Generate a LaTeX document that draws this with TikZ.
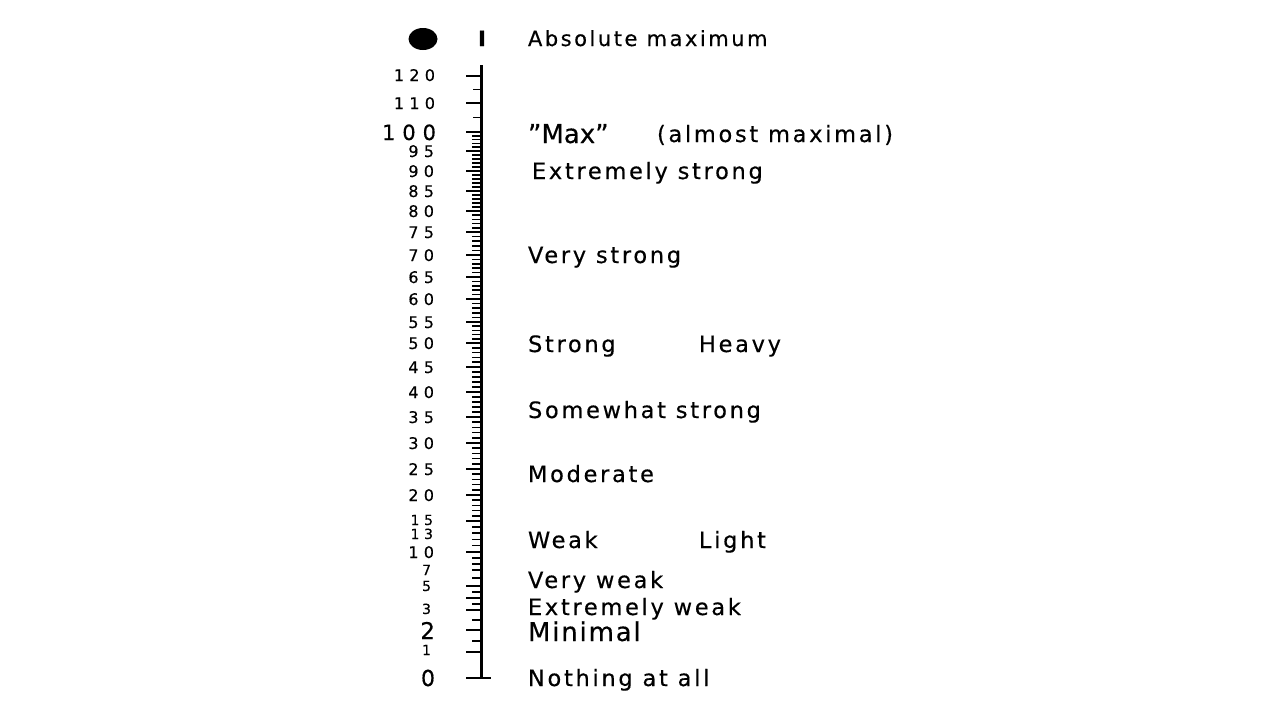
\documentclass[tikz,border=0pt]{standalone}
\usepackage{fontspec}
\setmainfont{DejaVu Sans}[LetterSpace=12, FakeBold=0.4]
\newfontfamily\numfont{DejaVu Sans}[LetterSpace=33, FakeBold=0.4]
\newfontfamily\maxfont{DejaVu Sans}[LetterSpace=0, FakeBold=0.4]
\newfontfamily\minfont{DejaVu Sans}[LetterSpace=7, FakeBold=0.4]
\usetikzlibrary{shapes.geometric}
\begin{document}
\begin{tikzpicture}[x=1pt,y=-1pt,
  every node/.style={inner sep=0pt, outer sep=0pt},
  lab/.style={anchor=base west, font=\fontsize{22.5}{22.5}\selectfont},
  biglab/.style={anchor=base west},
  num/.style={anchor=base east, font=\numfont\fontsize{16}{16}\selectfont},
  bignum/.style={anchor=base east, font=\numfont\fontsize{21}{21}\selectfont},
  smallnum/.style={anchor=base east, font=\numfont\fontsize{14}{14}\selectfont},
  tick/.style={line width=1.6pt},
  axis/.style={line width=3pt}]
\useasboundingbox (0,0) rectangle (1280,720);
% top marks
\node[ellipse, fill=black, minimum width=29pt, minimum height=22pt] (dot) at (423,39) {};
\node[anchor=base, font=\fontsize{21}{21}\selectfont\bfseries] (bar) at (482,46) {I};
% axis
\coordinate (atop) at (481,65);
\coordinate (abot) at (481,678);
\draw[axis] (atop) -- (abot);
\coordinate (zl) at (466,678);
\coordinate (zr) at (491,678);
\draw[axis, line width=2.5pt] (zl) -- (zr);
% ticks
\foreach \va/\ya/\vb/\yb/\st in {1/652/2/630/0.5, 2/630/3/610/0.5, 3/610/5/586/0.5,
  5/586/7/570/1, 7/570/10/552/1, 10/552/13/533/1, 13/533/15/521/1, 15/521/20/495/1,
  20/495/25/469/1, 25/469/30/443/1, 30/443/35/417/1, 35/417/40/392/1, 40/392/45/367/1,
  45/367/50/343/1, 50/343/55/322/1, 55/322/60/299/1, 60/299/65/277/1, 65/277/70/255/1,
  70/255/75/232/1, 75/232/80/211/1, 80/211/85/191/1, 85/191/90/171/1, 90/171/95/151/1,
  95/151/100/132/1, 100/132/110/103/5, 110/103/120/76/5}{
  \pgfmathtruncatemacro\n{round((\vb-\va)/\st)-1}
  \foreach \i in {0,...,\n}{
    \pgfmathsetmacro\v{\va+\i*\st}
    \pgfmathsetmacro\y{\ya+(\yb-\ya)*\i*\st/(\vb-\va)}
    \pgfmathsetmacro\L{((abs(\v-round(\v))<0.01)&&((int(mod(round(\v),5))==0)||(\v<5.5)||(\v>99))) ? 15 : 9}
    \pgfmathsetmacro\L{(\v>100)&&(int(mod(round(\v),10))!=0) ? 8 : \L}
    \draw[tick] (481-\L,\y) -- (481,\y);
  }
}
\draw[tick] (466,76) -- (481,76);
% numbers
\node[num] (n120) at (435,81) {120};
\node[num] (n110) at (435,109) {110};
\node[bignum] (n100) at (436,140) {100};
\node[num] (n95) at (434,157) {95};
\node[num] (n90) at (434,177) {90};
\node[num] (n85) at (434,197) {85};
\node[num] (n80) at (434,217) {80};
\node[num] (n75) at (434,238) {75};
\node[num] (n70) at (434,261) {70};
\node[num] (n65) at (434,283) {65};
\node[num] (n60) at (434,305) {60};
\node[num] (n55) at (434,328) {55};
\node[num] (n50) at (434,349) {50};
\node[num] (n45) at (434,373) {45};
\node[num] (n40) at (434,398) {40};
\node[num] (n35) at (434,423) {35};
\node[num] (n30) at (434,449) {30};
\node[num] (n25) at (434,475) {25};
\node[num] (n20) at (434,501) {20};
\node[smallnum] (n15) at (433,525) {15};
\node[smallnum] (n13) at (433,539) {13};
\node[num] (n10) at (434,558) {10};
\node[smallnum] (n7) at (431,575) {7};
\node[smallnum] (n5) at (431,591) {5};
\node[smallnum] (n3) at (431,614) {3};
\node[bignum, font=\numfont\fontsize{23}{23}\selectfont] (n2) at (435,639) {2};
\node[smallnum] (n1) at (431,655) {1};
\node[bignum, font=\numfont\fontsize{22}{22}\selectfont] (n0) at (435,686) {0};
% verbal labels
\node[lab, font=\fontsize{21}{21}\selectfont] (absmax) at (528,46) {Absolute maximum};
\node[biglab, font=\maxfont\fontsize{26}{26}\selectfont] (max) at (528,143) {”Max”};
\node[lab] (almost) at (657,142) {(almost maximal)};
\node[lab] (exstrong) at (532,179) {Extremely strong};
\node[lab] (vstrong) at (528,263) {Very strong};
\node[lab] (strong) at (528,352) {Strong};
\node[lab] (heavy) at (699,352) {Heavy};
\node[lab] (swstrong) at (528,418) {Somewhat strong};
\node[lab] (moderate) at (528,482) {Moderate};
\node[lab] (weak) at (528,548) {Weak};
\node[lab] (light) at (699,548) {Light};
\node[lab] (vweak) at (528,588) {Very weak};
\node[lab] (exweak) at (528,615) {Extremely weak};
\node[biglab, font=\minfont\fontsize{26}{26}\selectfont] (minimal) at (528,641) {Minimal};
\node[lab] (nothing) at (528,686) {Nothing at all};
\end{tikzpicture}
\end{document}
